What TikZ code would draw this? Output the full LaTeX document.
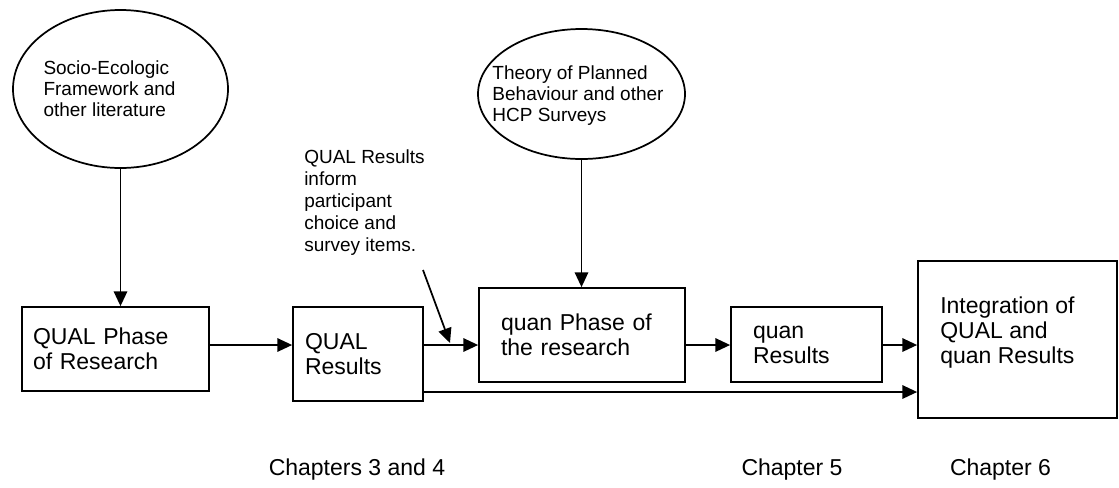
\documentclass[tikz,border=0pt]{standalone}
\usepackage{fontspec}
\setmainfont{Liberation Sans}
\usetikzlibrary{arrows.meta,shapes.geometric}
\begin{document}
\begin{tikzpicture}[x=0.75pt,y=-0.75pt,
  box/.style={draw, line width=1.3pt, rectangle, inner ysep=0pt, align=left,
    font=\fontsize{17.25pt}{18.75pt}\selectfont},
  oval/.style={draw, line width=1.3pt, ellipse, inner sep=0pt},
  small/.style={align=left, inner sep=0pt, font=\fontsize{14.25pt}{15.75pt}\selectfont},
  big/.style={align=left, inner sep=0pt, font=\fontsize{17.25pt}{18.75pt}\selectfont},
  arr/.style={line width=1.3pt, -{Triangle[length=11pt,width=10pt]}},
]
\useasboundingbox (0,0) rectangle (1119,487);

% ellipses
\node[oval, minimum width=161.25pt, minimum height=118.5pt] (e1) at (120.5,89) {};
\node[small] (t1) at (109.5,89) {Socio-Ecologic\\Framework and\\other literature};
\node[oval, minimum width=155.25pt, minimum height=97.5pt] (e2) at (581.5,94) {};
\node[small] (t2) at (578,96) {Theory of Planned\\Behaviour and other\\HCP Surveys};

% boxes
\node[box, minimum width=140.25pt, minimum height=63pt, inner xsep=8.25pt, text width=123.75pt]
  (q1) at (115.5,349) {QUAL Phase\\of Research};
\node[box, minimum width=97.5pt, minimum height=70.5pt, inner xsep=9pt, text width=79.5pt]
  (q2) at (358,354) {QUAL\\Results};
\node[box, minimum width=154.5pt, minimum height=70.5pt, inner xsep=16.5pt, text width=121.5pt]
  (q3) at (582,335) {quan Phase of\\the research};
\node[box, minimum width=113.25pt, minimum height=56.25pt, inner xsep=16.5pt, text width=80.25pt]
  (q4) at (806.5,344.5) {quan\\Results};
\node[box, minimum width=149.25pt, minimum height=117.75pt] (q5) at (1017.5,339.5) {};
\node[big, anchor=north west] (t5) at (940,297) {Integration of\\QUAL and\\quan Results};

% note
\node[small, anchor=north west, font=\fontsize{14.25pt}{16.5pt}\selectfont] (note) at (304,149)
  {QUAL Results\\inform\\participant\\choice and\\survey items.};

% chapter labels
\node[big, anchor=base] (c1) at (357,475) {Chapters 3 and 4};
\node[big, anchor=base] (c2) at (792,475) {Chapter 5};
\node[big, anchor=base] (c3) at (1000.5,475) {Chapter 6};

% helper coordinates
\coordinate (ya) at (0,345);
\coordinate (yb) at (0,392);
\coordinate (dtail) at (423,270);
\coordinate (dtip) at (450,343);

% connectors
\draw[arr] (e1.south) -- (e1.south |- q1.north);
\draw[arr] (e2.south) -- (e2.south |- q3.north);
\draw[arr] (q1.east |- ya) -- (q2.west |- ya);
\draw[arr] (q2.east |- ya) -- (q3.west |- ya);
\draw[arr] (q3.east |- ya) -- (q4.west |- ya);
\draw[arr] (q4.east |- ya) -- (q5.west |- ya);
\draw[arr] (q2.east |- yb) -- (q5.west |- yb);
\draw[arr] (dtail) -- (dtip);
\end{tikzpicture}
\end{document}
